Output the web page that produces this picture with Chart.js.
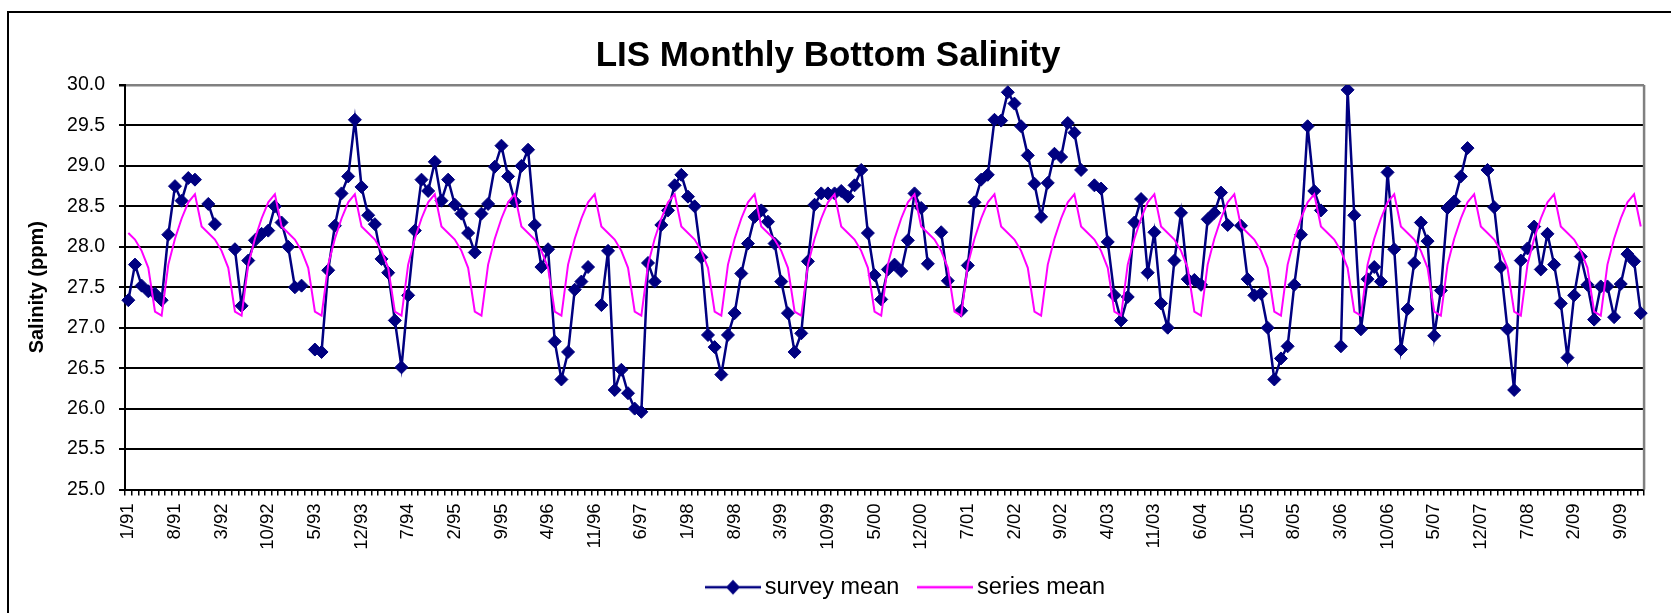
<!DOCTYPE html>
<html>
<head>
<meta charset="utf-8">
<title>LIS Monthly Bottom Salinity</title>
<script src="https://cdn.jsdelivr.net/npm/chart.js@4.4.1/dist/chart.umd.min.js"></script>
<style>
  html, body { margin: 0; padding: 0; background: #fff; }
  #wrap { width: 1671px; height: 613px; }
</style>
</head>
<body>
<div id="wrap"><canvas id="salinityChart" width="1671" height="613"></canvas></div>
<script>
// monthly bottom salinity from Jan 1991 to Dec 2009, null where no survey ran
var firstYear = 1991;
var surveyMean = [
  27.34, 27.78, 27.52, 27.45, 27.42, 27.34, 28.15, 28.75, 28.57, 28.85, 28.83, null,
  28.53, 28.28, null, null, 27.97, 27.27, 27.83, 28.08, 28.16, 28.20, 28.50, 28.30,
  28.00, 27.50, 27.52, null, 26.73, 26.70, 27.71, 28.26, 28.66, 28.87, 29.57, 28.74,
  28.39, 28.28, 27.85, 27.68, 27.09, 26.51, 27.40, 28.20, 28.83, 28.69, 29.05, 28.57,
  28.83, 28.52, 28.41, 28.17, 27.93, 28.41, 28.53, 28.99, 29.25, 28.87, 28.56, 29.00,
  29.20, 28.27, 27.75, 27.97, 26.83, 26.36, 26.70, 27.47, 27.57, 27.75, null, 27.28,
  27.95, 26.23, 26.48, 26.19, 26.00, 25.96, 27.80, 27.57, 28.27, 28.45, 28.76, 28.89,
  28.62, 28.50, 27.87, 26.91, 26.76, 26.42, 26.91, 27.18, 27.67, 28.04, 28.37, 28.45,
  28.31, 28.04, 27.57, 27.18, 26.70, 26.93, 27.82, 28.52, 28.66, 28.66, 28.66, 28.69,
  28.62, 28.76, 28.95, 28.17, 27.65, 27.35, 27.72, 27.78, 27.70, 28.08, 28.66, 28.48,
  27.79, null, 28.18, 27.58, null, 27.21, 27.77, 28.55, 28.83, 28.89, 29.57, 29.56,
  29.91, 29.77, 29.49, 29.13, 28.78, 28.37, 28.79, 29.15, 29.11, 29.53, 29.41, 28.95,
  null, 28.76, 28.72, 28.06, 27.40, 27.09, 27.38, 28.30, 28.59, 27.68, 28.18, 27.30,
  27.00, 27.83, 28.42, 27.60, 27.59, 27.53, 28.34, 28.42, 28.67, 28.27, null, 28.26,
  27.60, 27.40, 27.42, 27.00, 26.36, 26.62, 26.77, 27.53, 28.15, 29.49, 28.69, 28.45,
  null, null, 26.77, 29.94, 28.39, 26.98, 27.60, 27.75, 27.57, 28.92, 27.97, 26.73,
  27.23, 27.80, 28.30, 28.07, 26.90, 27.46, 28.48, 28.56, 28.87, 29.22, null, null,
  28.95, 28.49, 27.75, 26.98, 26.23, 27.83, 27.98, 28.25, 27.72, 28.16, 27.78, 27.30,
  26.63, 27.40, 27.88, 27.53, 27.10, 27.51, 27.51, 27.13, 27.54, 27.91, 27.82, 27.18
];
// long-term mean for each calendar month, Jan..Dec
var monthlySeriesMean = [28.17, 28.09, 27.95, 27.74, 27.20, 27.15, 27.78, 28.10, 28.35, 28.55, 28.65, 28.25];
var yTicks = { min: 25, max: 30, step: 0.5 };
var labelEvery = 7;

var monthLabels = [];
var seriesMean = [];
for (var i = 0; i < surveyMean.length; i++) {
  var yr = (firstYear + Math.floor(i / 12)) % 100;
  monthLabels.push((i % 12 + 1) + "/" + (yr < 10 ? "0" + yr : yr));
  seriesMean.push(monthlySeriesMean[i % 12]);
}

var NAVY = "#000080";
var PINK = "#FF00FF";
var FONT = "'Liberation Sans', Arial, sans-serif";

// little line samples for the legend (line + marker like the plot)
function legendSample(color, diamond) {
  var c = document.createElement("canvas");
  c.width = 56;
  c.height = 18;
  var g = c.getContext("2d");
  g.strokeStyle = color;
  g.lineWidth = 2.5;
  g.beginPath();
  g.moveTo(0, 9);
  g.lineTo(56, 9);
  g.stroke();
  if (diamond) {
    g.fillStyle = color;
    g.beginPath();
    g.moveTo(28, 1.5);
    g.lineTo(35, 9);
    g.lineTo(28, 16.5);
    g.lineTo(21, 9);
    g.closePath();
    g.fill();
  }
  return c;
}

var frame = {
  id: "frame",
  beforeDraw: function(chart) {
    var ctx = chart.ctx;
    ctx.save();
    ctx.fillStyle = "#fff";
    ctx.fillRect(0, 0, chart.width, chart.height);
    ctx.strokeStyle = "#000";
    ctx.lineWidth = 2;
    ctx.strokeRect(8, 12, chart.width + 40, chart.height + 40);
    ctx.restore();
  },
  beforeDatasetsDraw: function(chart) {
    var a = chart.chartArea, ctx = chart.ctx;
    ctx.save();
    ctx.strokeStyle = "#808080";
    ctx.lineWidth = 2.5;
    ctx.beginPath();
    ctx.moveTo(a.right, a.top);
    ctx.lineTo(a.right, a.bottom);
    ctx.stroke();
    ctx.restore();
  },
  afterLayout: function(chart) {
    // legend sits under the middle of the plot, not the page
    chart.legend.left += 81;
    chart.legend.right += 81;
  }
};

var ctx = document.getElementById("salinityChart");
new Chart(ctx, {
  type: "line",
  data: {
    labels: monthLabels,
    datasets: [{
      label: "survey mean",
      data: surveyMean,
      borderColor: NAVY,
      backgroundColor: NAVY,
      borderWidth: 2.5,
      pointStyle: "rectRot",
      pointRadius: 6.5,
      pointBorderWidth: 1,
      pointBackgroundColor: NAVY,
      pointBorderColor: NAVY,
      spanGaps: false,
      tension: 0,
      order: 2
    }, {
      label: "series mean",
      data: seriesMean,
      borderColor: PINK,
      borderWidth: 2,
      pointRadius: 0,
      tension: 0,
      order: 1
    }]
  },
  options: {
    responsive: false,
    animation: false,
    devicePixelRatio: 1,
    layout: { padding: { left: 8, right: 23, top: 0, bottom: 4 } },
    plugins: {
      title: {
        display: true,
        text: "LIS Monthly Bottom Salinity",
        color: "#000",
        font: { family: FONT, size: 35, weight: "bold" },
        padding: { top: 35, bottom: 8 }
      },
      legend: {
        display: true,
        position: "bottom",
        maxHeight: 60,
        labels: {
          color: "#000",
          font: { family: FONT, size: 23.5 },
          usePointStyle: true,
          pointStyleWidth: 40,
          padding: 26,
          generateLabels: function(chart) {
            return chart.data.datasets.map(function(ds, i) {
              return {
                text: ds.label,
                datasetIndex: i,
                pointStyle: legendSample(ds.borderColor, i === 0),
                fillStyle: "transparent",
                strokeStyle: "transparent",
                lineWidth: 0,
                fontColor: "#000",
                hidden: false
              };
            });
          }
        }
      },
      tooltip: { enabled: false }
    },
    scales: {
      x: {
        type: "category",
        offset: true,
        grid: {
          display: true,
          drawOnChartArea: false,
          drawTicks: true,
          offset: true,
          tickLength: 6,
          color: "#000",
          tickColor: "#000",
          lineWidth: 1.5
        },
        border: { display: true, color: "#000", width: 2 },
        ticks: {
          autoSkip: false,
          minRotation: 90,
          maxRotation: 90,
          padding: 8,
          color: "#000",
          font: { family: FONT, size: 18.5 },
          callback: function(value, index) {
            return index % labelEvery === 0 ? this.getLabelForValue(value) : "";
          }
        },
        afterFit: function(scale) { scale.height = 60; }
      },
      y: {
        min: yTicks.min,
        max: yTicks.max,
        grid: {
          color: function(c) { return c.tick && c.tick.value === yTicks.max ? "#808080" : "#000"; },
          lineWidth: function(c) { return c.tick && c.tick.value === yTicks.max ? 2.5 : 2; },
          tickColor: "#000",
          tickLength: 6
        },
        border: { display: true, color: "#000", width: 2 },
        ticks: {
          stepSize: yTicks.step,
          padding: 14,
          color: "#000",
          font: { family: FONT, size: 19.5 },
          callback: function(v) { return v.toFixed(1); }
        },
        title: {
          display: true,
          text: "Salinity (ppm)",
          color: "#000",
          font: { family: FONT, size: 20, weight: "bold" },
          padding: { top: 17, bottom: 0 }
        },
        afterFit: function(scale) { scale.width = 117; }
      }
    }
  },
  plugins: [frame]
});
</script>
</body>
</html>
